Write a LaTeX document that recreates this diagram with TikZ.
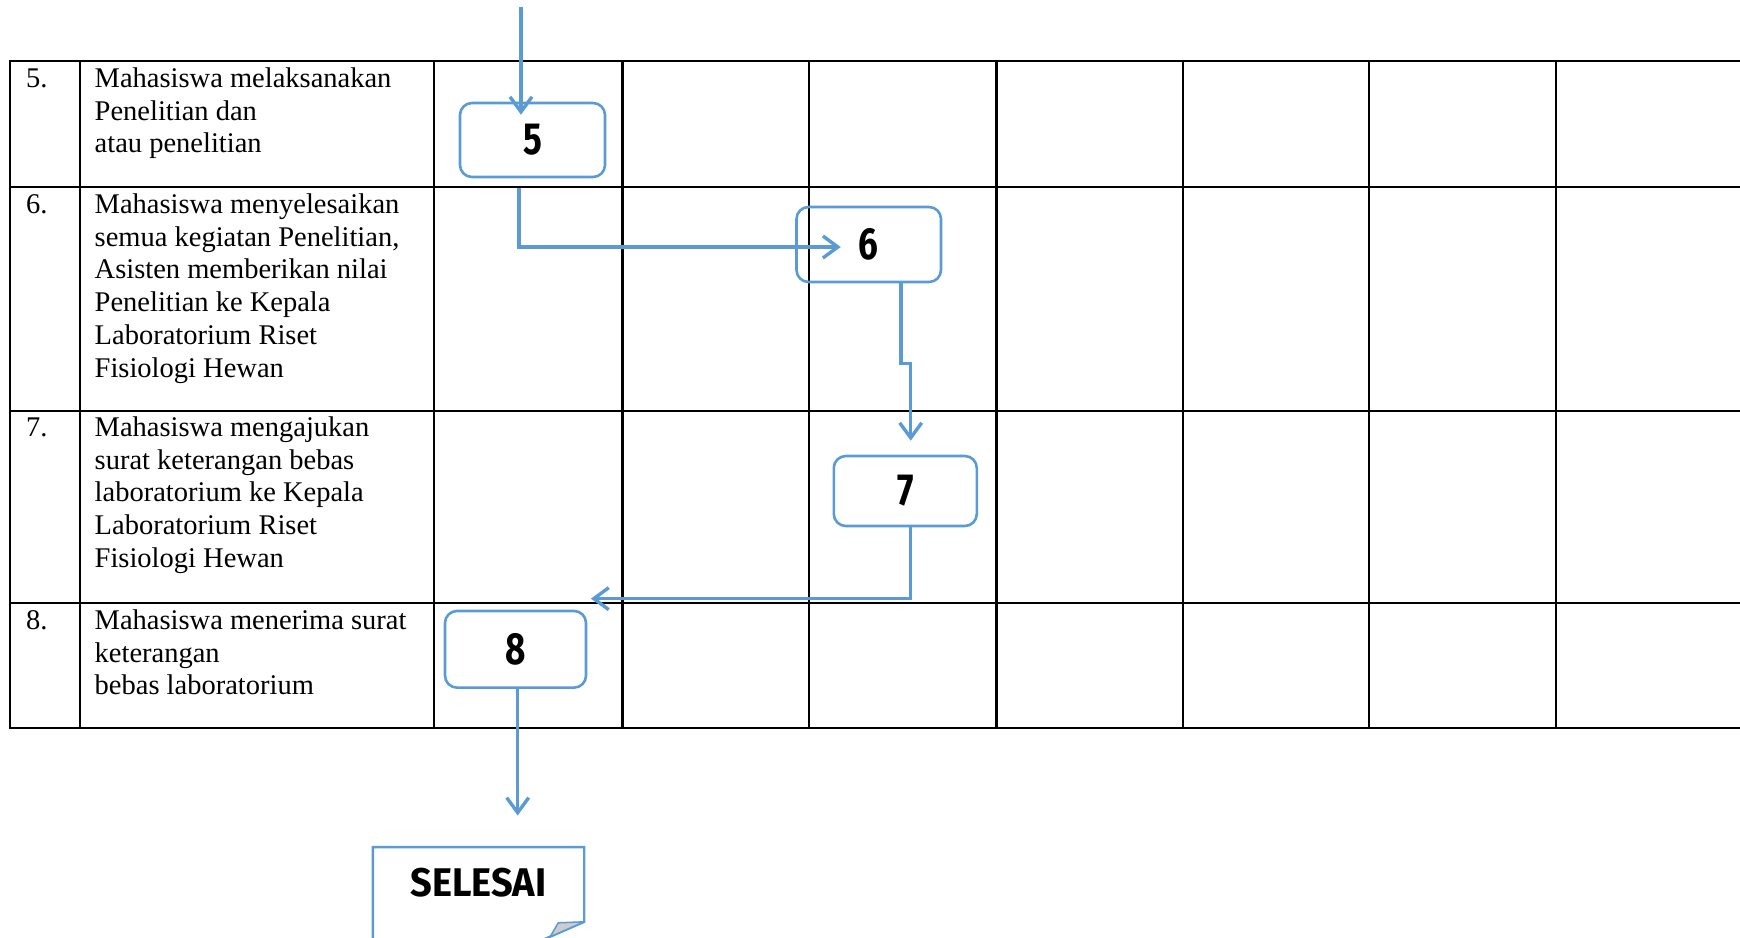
\documentclass[tikz,border=0pt]{standalone}
\usepackage{fontspec}
\setmainfont{Liberation Serif}
\newfontfamily\digitfont{Fira Sans}[FakeStretch=0.78]
\newfontfamily\endfont{Fira Sans}[FakeStretch=0.95]
\usetikzlibrary{arrows.meta,calc}
\definecolor{flowblue}{RGB}{91,155,213}
\begin{document}
\begin{tikzpicture}[x=1pt,y=-1pt,
  grid/.style={line width=2.4pt, black, line cap=rect},
  cellnum/.style={anchor=north west, inner sep=0pt, font=\fontsize{28.5}{32.8}\selectfont},
  celltext/.style={anchor=north west, inner sep=0pt, align=left, font=\fontsize{28.5}{32.8}\selectfont},
  stepbox/.style={draw=flowblue, line width=2.6pt, rounded corners=12pt, inner sep=0pt,
    font=\digitfont\bfseries\fontsize{45}{45}\selectfont},
  endbox/.style={inner sep=0pt, minimum width=211pt, minimum height=71.4pt,
    font=\endfont\bfseries\fontsize{40}{40}\selectfont},
  flow/.style={draw=flowblue, line width=3.4pt, -{Straight Barb[length=15pt,width=22pt]}},
]
\useasboundingbox (0,0) rectangle (1740,937);

% table grid
\foreach \y in {61,187,410.7,602.7,727.7} \draw[grid] (10,\y) -- (1745,\y);
\foreach \x in {10,80,434,622.6,808.8,996.5,1183,1369,1556} \draw[grid] (\x,61) -- (\x,727.7);

% row texts
\node[cellnum] (n5) at (26,65) {\rule{0pt}{22pt}5.};
\node[celltext] (t5) at (94.5,65) {\rule{0pt}{22pt}Mahasiswa melaksanakan\\Penelitian dan\\atau penelitian};
\node[cellnum] (n6) at (26,191) {\rule{0pt}{22pt}6.};
\node[celltext] (t6) at (94.5,191) {\rule{0pt}{22pt}Mahasiswa menyelesaikan\\semua kegiatan Penelitian,\\Asisten memberikan nilai\\Penelitian ke Kepala\\Laboratorium Riset\\Fisiologi Hewan};
\node[cellnum] (n7) at (26,414) {\rule{0pt}{22pt}7.};
\node[celltext] (t7) at (94.5,414) {\rule{0pt}{22pt}Mahasiswa mengajukan\\surat keterangan bebas\\laboratorium ke Kepala\\Laboratorium Riset\\Fisiologi Hewan};
\node[cellnum] (n8) at (26,607) {\rule{0pt}{22pt}8.};
\node[celltext] (t8) at (94.5,607) {\rule{0pt}{22pt}Mahasiswa menerima surat\\keterangan\\bebas laboratorium};

% step boxes
\node[stepbox, minimum width=145pt, minimum height=74pt] (b5) at (532.5,140) {5};
\node[stepbox, minimum width=144.5pt, minimum height=75pt] (b6) at (868.75,244.5) {6};
\node[stepbox, minimum width=143pt, minimum height=70pt] (b7) at (905.3,491) {7};
\node[stepbox, minimum width=141pt, minimum height=76.7pt] (b8) at (515.5,649.3) {8};

% end box (folded corner)
\node[endbox] (sel) at (478.5,883) {SELESAI};
\draw[draw=flowblue, line width=2.4pt] (sel.north west) -- (sel.north east) -- ($(sel.north east)+(0,74.7)$)
  -- ($(sel.north west)+(170,92.7)$) -- ($(sel.north west)+(0,92.7)$) -- cycle;
\filldraw[fill=black!20, draw=flowblue, line width=1.5pt, line join=round] ($(sel.north east)+(0,74.7)$)
  -- ($(sel.north east)+(-26,75.7)$) -- ($(sel.north east)+(-34,89.7)$) -- cycle;

% connectors
\coordinate (entry) at (521,7);
\draw[flow] (entry) -- ($(entry |- b5.north)+(0,13)$);
\draw[flow] ($(b5.south)+(-13.5,10)$) |- ($(b6.center)+(-28,2.5)$);
\draw[flow] ($(b6.south)+(32.3,0)$) -- ++(0,80) -| ($(b7.north)+(5.4,-14)$);
\draw[flow] ($(b7.south)+(5.4,0)$) |- ($(b8.north east)+(3.6,-11)$);
\draw[flow] ($(b8.south)+(2.2,0)$) -- ($(b8.south |- sel.north)+(2.2,-31.6)$);
\end{tikzpicture}
\end{document}
